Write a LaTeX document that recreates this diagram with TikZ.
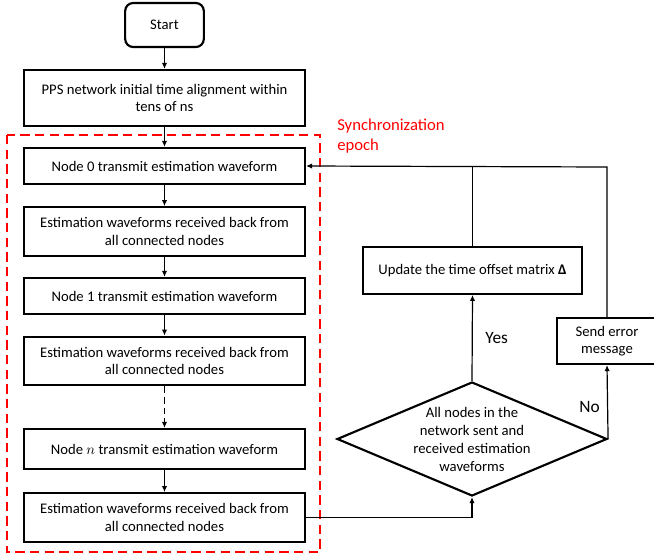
\documentclass[tikz,border=0pt]{standalone}
\usepackage{fontspec}
\setmainfont{Carlito}
\usetikzlibrary{arrows.meta,shapes.geometric}

\begin{document}
\begin{tikzpicture}[x=0.75pt,y=-0.75pt,>={Latex[length=4.5pt,width=4pt]},
    box/.style={draw,line width=1.6pt,minimum width=210.75pt,align=center,inner sep=2pt,
        font=\fontsize{11}{13}\selectfont},
    onebox/.style={box,minimum height=27pt},
    twobox/.style={box,minimum height=36.5pt},
    link/.style={->,line width=0.9pt,black},
    answer/.style={font=\fontsize{13}{15}\selectfont}]
    \useasboundingbox (0,0) rectangle (654,557);

    % main column
    \node[box,rounded corners=6pt,minimum width=59pt,minimum height=33pt] (start) at (164.5,25) {Start};
    \node[box,minimum height=42pt] (pps) at (164.5,98) {PPS network initial time alignment within\\tens of ns};
    \node[onebox] (tx0) at (164.5,166) {Node 0 transmit estimation waveform};
    \node[twobox] (rx0) at (164.5,231.5) {Estimation waveforms received back from\\all connected nodes};
    \node[onebox] (tx1) at (164.5,296) {Node 1 transmit estimation waveform};
    \node[twobox] (rx1) at (164.5,361) {Estimation waveforms received back from\\all connected nodes};
    \node[onebox,minimum height=30pt] (txn) at (164.5,449) {Node $n$ transmit estimation waveform};
    \node[twobox] (rxn) at (164.5,517.5) {Estimation waveforms received back from\\all connected nodes};

    % synchronization epoch
    \draw[red,line width=1.7pt,dash pattern=on 7pt off 4pt] (7,135) rectangle (320,552);
    \node[red,anchor=north west,align=left,inner sep=0pt,font=\fontsize{12.5}{14.5}\selectfont] (epoch) at (337,119) {Synchronization\\epoch};

    % right side
    \node[draw,diamond,line width=1.6pt,minimum width=202.5pt,minimum height=85.5pt,aspect=2.37,
        inner sep=-3pt,align=center,font=\fontsize{11}{13.5}\selectfont] (check) at (472,439)
        {All nodes in the\\network sent and\\received estimation\\waveforms};
    \node[box,minimum width=164pt,minimum height=35pt] (update) at (472.5,270.5) {Update the time offset matrix \textbf{Δ}};
    \node[box,minimum width=75pt,minimum height=34.5pt] (error) at (607,341) {Send error\\message};
    \coordinate (back) at (607,167);

    \draw[link] (start) -- (pps);
    \draw[link] (pps) -- (tx0);
    \draw[link] (tx0) -- (rx0);
    \draw[link] (rx0) -- (tx1);
    \draw[link] (tx1) -- (rx1);
    \draw[link,dash pattern=on 5pt off 3pt] (rx1) -- (txn);
    \draw[link] (txn) -- (rxn);
    \draw[link] (rxn.east) -| (check.south);
    \draw[link] (check.north) -- (update.south) node [midway,right,xshift=6pt,answer] {Yes};
    \draw[link] (check.east) -- (error.south) node [midway,left,xshift=-2pt,yshift=-4pt,answer] {No};
    \draw[link] (error.north) -- (back) -- (tx0.east);
    \draw[line width=0.9pt] (update.north) -- (update.north |- back);
\end{tikzpicture}
\end{document}
